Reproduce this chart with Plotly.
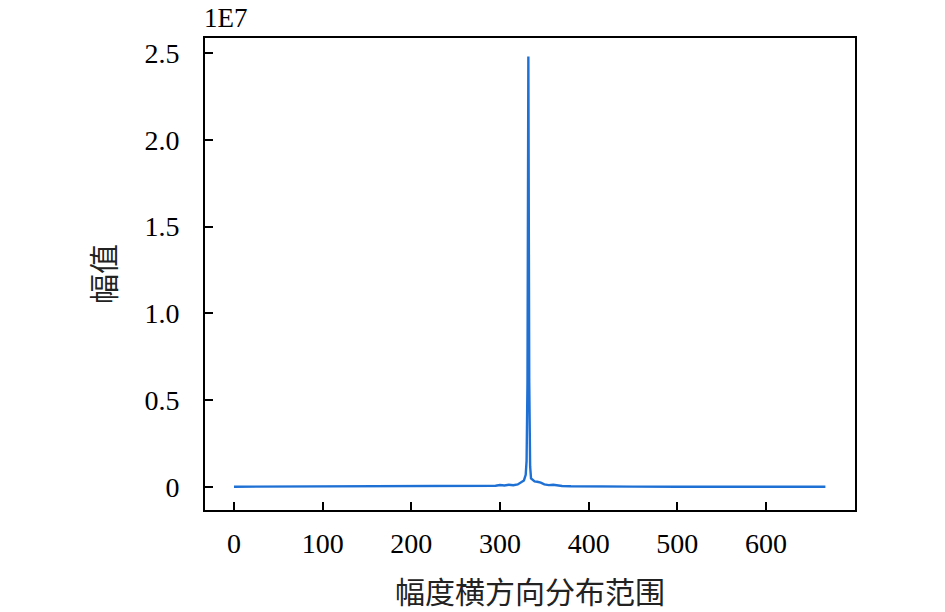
import plotly.graph_objects as go

# x positions (sample index) and amplitudes
x_vals = [0, 50, 100, 150, 200, 250, 280, 295, 300, 305, 310, 315, 320, 324, 327,
          329, 330, 331, 332, 333, 334, 335, 337, 339, 342, 346, 350, 355, 360, 365,
          370, 380, 400, 450, 500, 550, 600, 650, 667]
y_vals = [15000, 18000, 20000, 22000, 28000, 35000, 50000, 70000, 110000, 90000, 130000,
          100000, 150000, 300000, 380000, 700000, 1500000, 6000000, 24800000, 6000000,
          1200000, 500000, 380000, 320000, 300000, 250000, 150000, 110000, 130000, 90000,
          60000, 45000, 30000, 22000, 18000, 16000, 15000, 14000, 14000]

y_tickvals = [0, 5e6, 1e7, 1.5e7, 2e7, 2.5e7]
y_ticktext = ["0", "0.5", "1.0", "1.5", "2.0", "2.5"]
x_tickvals = [0, 100, 200, 300, 400, 500, 600]

serif = "Liberation Serif, Times New Roman, serif"
cjk = "Noto Sans CJK SC"

fig = go.Figure()
fig.add_trace(go.Scatter(x=x_vals, y=y_vals, mode="lines",
                         line=dict(color="#1f70d4", width=2.4), showlegend=False))

axis_common = dict(showline=True, linecolor="black", linewidth=2, mirror=True,
                   ticks="inside", ticklen=8, tickwidth=2, tickcolor="black",
                   showgrid=False, zeroline=False, automargin=False,
                   tickfont=dict(family=serif, size=28, color="black"))

fig.update_xaxes(range=[-32.7, 700.4], tickvals=x_tickvals, ticklabelstandoff=7,
                 title=dict(text="幅度横方向分布范围", font=dict(family=cjk, size=30, color="#222"),
                            standoff=33),
                 **axis_common)
fig.update_yaxes(range=[-1.325e6, 2.586e7], tickvals=y_tickvals, ticktext=y_ticktext,
                 ticklabelstandoff=18,
                 title=dict(text="幅值", font=dict(family=cjk, size=30, color="#222"),
                            standoff=20),
                 **axis_common)

fig.add_annotation(text="1E7", xref="paper", yref="paper", x=0, y=1.042, xanchor="left",
                   yanchor="middle", showarrow=False, xshift=-2, borderpad=0,
                   font=dict(family=serif, size=27, color="black"))

fig.update_layout(width=945, height=612, plot_bgcolor="white", paper_bgcolor="white",
                  margin=dict(l=205, r=90, t=38, b=102))

# remove the page's default 8px body margin so the figure fills the window exactly
fig.write_html("out.html", config={"displayModeBar": False},
               post_script="document.body.style.margin='0';")
